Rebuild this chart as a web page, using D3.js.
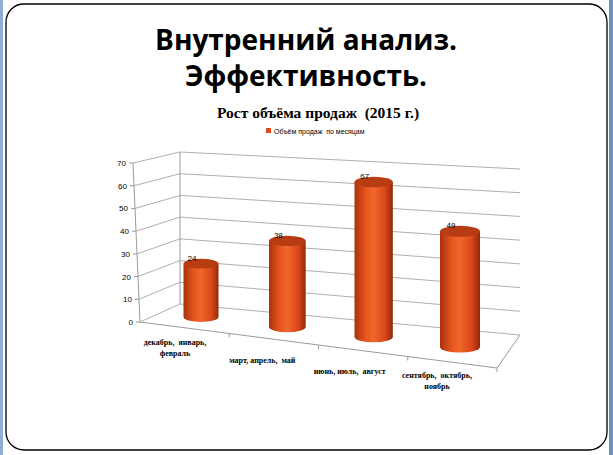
<!DOCTYPE html>
<html><head><meta charset="utf-8">
<script src="https://cdn.jsdelivr.net/npm/d3@7"></script>
<style>body{margin:0;background:#fff} text{white-space:pre}</style>
</head><body>
<script>
let categories = [["декабрь,  январь,", "февраль"], ["март, апрель,  май"], ["июнь, июль,  август"], ["сентябрь,  октябрь,", "ноябрь"]]
let values = [24, 38, 67, 49]
let ticks = [0, 10, 20, 30, 40, 50, 60, 70]

let width = 613, height = 455
let svg = d3.select("body").append("svg").attr("width", width).attr("height", height)

// slide frame
svg.append("rect").attr("x", 0).attr("y", 0).attr("width", 3).attr("height", height).attr("fill", "#8eaed6")
svg.append("rect").attr("x", 609).attr("y", 0).attr("width", 4).attr("height", height).attr("fill", "#6f8fbf")
svg.append("rect").attr("x", 6).attr("y", 4).attr("width", 601).attr("height", 446).attr("rx", 18)
    .attr("fill", "#fff").attr("stroke", "#000").attr("stroke-width", 1.3)

svg.append("text").attr("x", 306).attr("y", 50).attr("text-anchor", "middle")
    .style("font", "bold 28px 'Open Sans', sans-serif").text("Внутренний анализ.")
svg.append("text").attr("x", 306).attr("y", 86).attr("text-anchor", "middle")
    .style("font", "bold 28px 'Open Sans', sans-serif").text("Эффективность.")
svg.append("text").attr("x", 318).attr("y", 118).attr("text-anchor", "middle")
    .style("font", "bold 15.5px 'Liberation Serif', serif").text("Рост объёма продаж  (2015 г.)")

// legend
svg.append("rect").attr("x", 266).attr("y", 128).attr("width", 5).attr("height", 5).attr("fill", "#e04a1a")
svg.append("text").attr("x", 274).attr("y", 133.5).style("font", "7px 'Liberation Sans', sans-serif")
    .text("Объём продаж  по месяцам")

// perspective walls
let yBackL = d3.scaleLinear().domain([0, 70]).range([304, 152])
let yBackR = d3.scaleLinear().domain([0, 70]).range([335, 169])
let yFront = d3.scaleLinear().domain([0, 70]).range([322, 163])
let xFront = d3.scaleLinear().domain([0, 70]).range([140, 133])
let grid = "#9a9a9a"

svg.selectAll(".back").data(ticks).enter().append("line")
    .attr("x1", 180).attr("x2", 520)
    .attr("y1", d => yBackL(d)).attr("y2", d => yBackR(d))
    .attr("stroke", grid).attr("stroke-width", 0.8)
svg.selectAll(".side").data(ticks).enter().append("line")
    .attr("x1", d => xFront(d)).attr("x2", 180)
    .attr("y1", d => yFront(d)).attr("y2", d => yBackL(d))
    .attr("stroke", grid).attr("stroke-width", 0.8)
svg.append("line").attr("x1", xFront(0)).attr("x2", xFront(70)).attr("y1", yFront(0)).attr("y2", yFront(70))
    .attr("stroke", grid)
svg.append("line").attr("x1", 180).attr("x2", 180).attr("y1", yBackL(0)).attr("y2", yBackL(70)).attr("stroke", grid)
// floor front edge & right side
svg.append("path").attr("d", `M${xFront(0)},${yFront(0)} L497,368 L520,${yBackR(0)}`)
    .attr("fill", "none").attr("stroke", grid)
let xFloor = d3.scaleLinear().domain([0, 4]).range([xFront(0), 497])
let yFloor = d3.scaleLinear().domain([0, 4]).range([yFront(0), 368])
svg.selectAll(".ft").data([1, 2, 3, 4]).enter().append("line")
    .attr("x1", d => xFloor(d)).attr("x2", d => xFloor(d))
    .attr("y1", d => yFloor(d)).attr("y2", d => yFloor(d) + 4).attr("stroke", grid)
svg.selectAll(".lt").data(ticks).enter().append("line")
    .attr("x1", d => xFront(d) - 4).attr("x2", d => xFront(d))
    .attr("y1", d => yFront(d)).attr("y2", d => yFront(d)).attr("stroke", grid)
svg.selectAll(".yl").data(ticks).enter().append("text")
    .attr("x", d => xFront(d) - 7).attr("y", d => yFront(d) + 3).attr("text-anchor", "end")
    .style("font", "8px 'Liberation Sans', sans-serif").text(d => d)

// cylinders
let idx = d3.scaleLinear().domain([0, 3])
let cx = idx.copy().range([201, 460])
let bottom = idx.copy().range([317, 347])
let rad = idx.copy().range([17.5, 20])
let k = idx.copy().range([2.22, 2.36])

let grad = svg.append("defs").append("linearGradient").attr("id", "cyl")
grad.selectAll("stop").data([[0, "#a8320d"], [0.3, "#e8561f"], [0.5, "#f0672c"], [0.8, "#d9461a"], [1, "#8e2a0a"]])
    .enter().append("stop").attr("offset", d => d[0]).attr("stop-color", d => d[1])

values.forEach((v, i) => {
    let x = cx(i), r = rad(i), b = bottom(i), t = b - k(i) * v, ry = r * 0.28
    let g = svg.append("g")
    g.append("path")
        .attr("d", `M${x - r},${t} L${x - r},${b} A${r},${ry} 0 0 0 ${x + r},${b} L${x + r},${t} Z`)
        .attr("fill", "url(#cyl)")
    g.append("ellipse").attr("cx", x).attr("cy", t).attr("rx", r).attr("ry", ry).attr("fill", "#b83c12")
    g.append("text").attr("x", x - 9).attr("y", t - 3).attr("text-anchor", "middle")
        .style("font", "8px 'Liberation Sans', sans-serif").text(v)
})

// category labels
let labX = d3.scaleLinear().domain([0, 3]).range([175, 437])
let labY = d3.scaleLinear().domain([0, 3]).range([345, 378])
categories.forEach((c, i) => {
    let t = svg.append("text").attr("text-anchor", "middle")
        .style("font", "bold 8px 'Liberation Serif', serif").attr("fill", "#000")
    c.forEach((line, j) => {
        t.append("tspan").attr("x", labX(i)).attr("y", labY(i) + (c.length === 1 ? 7 : 0) + j * 11).text(line)
    })
})
</script>
</body></html>
